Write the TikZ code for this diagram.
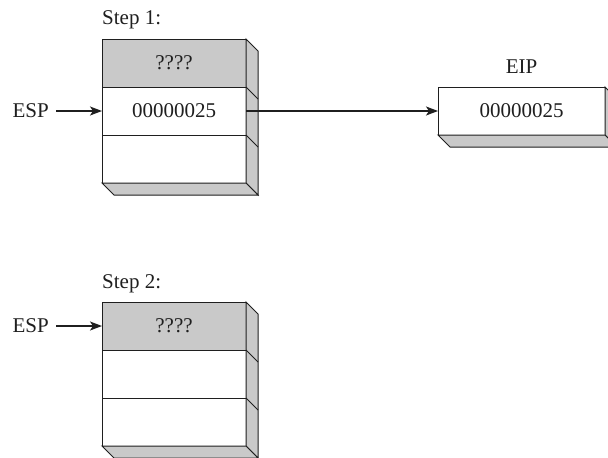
\documentclass[tikz,border=0pt]{standalone}
\usepackage{fontspec}
\setmainfont{Liberation Serif}
\usetikzlibrary{arrows.meta,positioning}
\definecolor{cellgray}{gray}{0.79}
\definecolor{ink}{gray}{0.12}

\begin{document}
\begin{tikzpicture}[
    x=1pt, y=-1pt,
    font=\fontsize{21}{25}\selectfont,
    every node/.style={text=ink},
    cell/.style={draw=ink, fill=white, minimum width=144pt, minimum height=48pt, inner sep=0pt, outer sep=0pt, line width=1pt},
    topcell/.style={cell, fill=cellgray},
    side3d/.style={draw=ink, fill=cellgray, line width=1pt},
    ptr/.style={draw=ink, -{Stealth[length=12pt,width=9pt,inset=3pt]}, line width=1.4pt},
    lbl/.style={inner sep=0pt}
]
\useasboundingbox (0,0) rectangle (608,458);

% Step 1 stack
\node[topcell] (s1top) at (174,63) {????};
\node[cell, below=0pt of s1top] (s1mid) {00000025};
\node[cell, below=0pt of s1mid] (s1bot) {};
\node[lbl, anchor=base west] (step1) at ([yshift=15pt]s1top.north west) {Step 1:};

% Step 2 stack
\node[topcell] (s2top) at (174,326) {????};
\node[cell, below=0pt of s2top] (s2mid) {};
\node[cell, below=0pt of s2mid] (s2bot) {};
\node[lbl, anchor=base west] (step2) at ([yshift=14pt]s2top.north west) {Step 2:};

% 3D faces of the stacks
\foreach \s in {s1,s2} {
  \draw[side3d] (\s top.north east) -- ++(12,12) -- ([shift={(12,12)}]\s bot.south east) -- (\s bot.south east) -- cycle;
  \draw[side3d] (\s bot.south west) -- ++(12,12) -- ([shift={(12,12)}]\s bot.south east) -- (\s bot.south east) -- cycle;
  \draw[draw=ink, line width=1pt] (\s mid.north east) -- ++(12,12);
  \draw[draw=ink, line width=1pt] (\s bot.north east) -- ++(12,12);
}

% EIP register
\node[cell, minimum width=167pt] (eip) at (521.5,111) {00000025};
\node[lbl, anchor=base] (eiplbl) at ([yshift=14pt]eip.north) {EIP};
\draw[side3d] (eip.north east) -- ++(12,12) -- ([shift={(12,12)}]eip.south east) -- (eip.south east) -- cycle;
\draw[side3d] (eip.south west) -- ++(12,12) -- ([shift={(12,12)}]eip.south east) -- (eip.south east) -- cycle;

% Pointers
\node[lbl, left=53pt of s1mid] (esp1) {ESP};
\node[lbl, left=53pt of s2top] (esp2) {ESP};
\draw[ptr, shorten <=7pt] (esp1) -- (s1mid);
\draw[ptr, shorten <=7pt] (esp2) -- (s2top);
\draw[ptr] (s1mid) -- (eip);

\end{tikzpicture}
\end{document}
